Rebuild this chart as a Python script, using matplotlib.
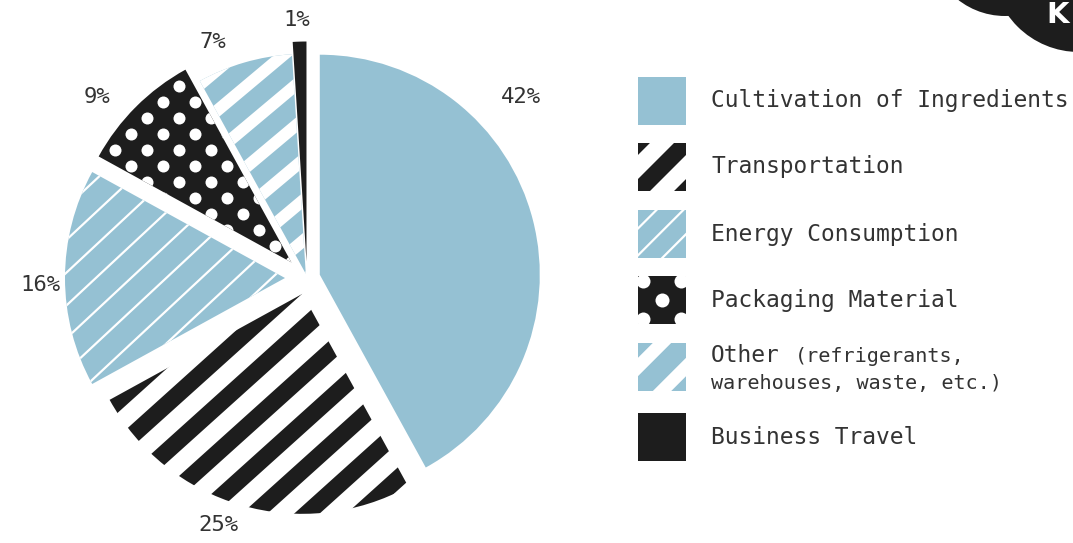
import textwrap
import numpy as np
import matplotlib.pyplot as plt
from matplotlib.collections import LineCollection
from matplotlib.patches import Rectangle, Circle

# data
categories = ["Cultivation of Ingredients", "Transportation", "Energy Consumption",
              "Packaging Material", "Other (refrigerants, warehouses, waste, etc.)",
              "Business Travel"]
shares = [42, 25, 16, 9, 7, 1]
pct_labels = ["42%", "25%", "16%", "9%", "7%", "1%"]

BLUE = "#95c1d3"
BLACK = "#1d1d1d"
TEXT = "#333333"
MONO = "DejaVu Sans Mono"

W, H, DPI = 1073, 543, 100
CX, CY, R = 307, 278, 220   # pie centre / radius in pixels


def px(x, y):
    # pixel position -> data coords of the pie axes
    return (x - CX) / R, (CY - y) / R


def pt(pixels):
    return pixels * 72 / DPI


fig = plt.figure(figsize=(W / DPI, H / DPI), dpi=DPI)
ax = fig.add_axes([0, 0, 1, 1])

explode = [0.06, 0.075, 0.10, 0.10, 0.02, 0.075]
faces = [BLUE, "white", BLUE, BLACK, BLUE, BLACK]
wedges, _ = ax.pie(shares, explode=explode, colors=faces, startangle=90,
                   counterclock=False, radius=1, wedgeprops=dict(linewidth=0))

# fill patterns for pie: (kind, angle, period px, width px, colour)
patterns = [None,
            ("stripe", 42, 35, 17, BLACK),
            ("stripe", 43, 24, 2.2, "white"),
            ("dots", 0, 16, 12, "white"),
            ("stripe", 40, 31, 12, "white"),
            None]
# same patterns for the legend swatches (slightly larger scale)
legend_patterns = [None,
                   ("stripe", 45, 34, 17, BLACK),
                   ("stripe", 45, 19, 2.2, "white"),
                   ("dots", 0, 19, 14, "white"),
                   ("stripe", 45, 34, 13, "white"),
                   None]
legend_phase = [0, 0, 0.1, 0, 0.5, 0]


def stripes(patch, angle, period, width, color, origin=(0, 0), phase=0.0):
    a = np.deg2rad(angle)
    d = np.array([np.cos(a), np.sin(a)])
    n = np.array([-np.sin(a), np.cos(a)])
    o = np.array(origin)
    p = period / R
    offs = (np.arange(-30, 31) + phase) * p
    segs = [[o + k * n - 4 * d, o + k * n + 4 * d] for k in offs]
    lc = LineCollection(segs, colors=color, linewidths=pt(width), capstyle="butt")
    ax.add_collection(lc, autolim=False)
    lc.set_clip_path(patch)


def dots(patch, step, size, color, origin=(0, 0)):
    s = step / R
    idx = np.arange(-40, 41)
    ii, jj = np.meshgrid(idx, idx)
    keep = (ii + jj) % 2 == 0
    xs = origin[0] + ii[keep] * s
    ys = origin[1] + jj[keep] * s
    sc = ax.scatter(xs, ys, s=pt(size) ** 2, color=color, linewidths=0)
    sc.set_clip_path(patch)


def fill(patch, spec, origin=(0, 0), phase=0.0):
    if spec is None:
        return
    kind, angle, period, width, color = spec
    if kind == "stripe":
        stripes(patch, angle, period, width, color, origin, phase)
    else:
        dots(patch, period, width, color, origin)


for w, spec in zip(wedges, patterns):
    fill(w, spec)

# percentage labels
label_px = [(521, 97), (218, 525), (40, 285), (97, 97), (213, 42), (297, 20)]
for lab, (lx, ly) in zip(pct_labels, label_px):
    ax.text(*px(lx, ly), lab, ha="center", va="center", fontsize=16,
            family=MONO, color=TEXT)

# legend
icon_top = [77, 143, 210, 276, 343, 413]
icon = 48
for name, face, spec, top, ph in zip(categories, faces, legend_patterns,
                                     icon_top, legend_phase):
    x0, y0 = px(638, top + icon)
    rect = Rectangle((x0, y0), icon / R, icon / R, facecolor=face, linewidth=0)
    ax.add_patch(rect)
    centre = px(638 + icon / 2, top + icon / 2)
    fill(rect, spec, origin=centre, phase=ph)

    cy = top + icon / 2
    if "(" in name:
        head, tail = name.split(" ", 1)
        lines = textwrap.wrap(tail, 24)
        ax.text(*px(711, cy - 12), head, ha="left", va="center",
                fontsize=16.5, family=MONO, color=TEXT)
        ax.text(*px(795, cy - 11), lines[0], ha="left", va="center",
                fontsize=14.5, family=MONO, color=TEXT)
        ax.text(*px(711, cy + 17), lines[1], ha="left", va="center",
                fontsize=14.5, family=MONO, color=TEXT)
    else:
        ax.text(*px(711, cy), name, ha="left", va="center",
                fontsize=16.5, family=MONO, color=TEXT)

# logo blob in the top right corner
for bx, by, br in [(1005, -60, 76), (1079, -35, 87)]:
    ax.add_patch(Circle(px(bx, by), br / R, facecolor=BLACK, linewidth=0))
ax.text(*px(1046, 23), "K", ha="left", va="baseline", fontsize=21,
        fontweight="bold", color="white", family="DejaVu Sans")

ax.set_xlim(px(0, 0)[0], px(W, 0)[0])
ax.set_ylim(px(0, H)[1], px(0, 0)[1])
ax.set_aspect("auto")
ax.axis("off")

fig.savefig("out.png", dpi=DPI, facecolor="white")
